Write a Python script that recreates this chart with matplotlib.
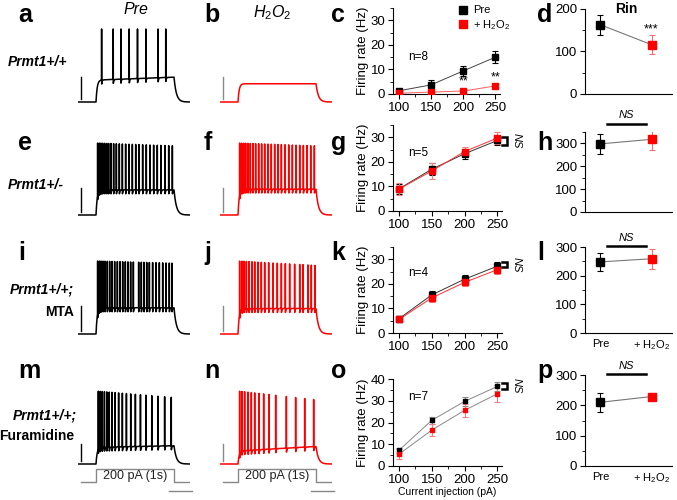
import numpy as np
import matplotlib
matplotlib.use("Agg")
import matplotlib.pyplot as plt
from matplotlib.ticker import MultipleLocator
from matplotlib.lines import Line2D

plt.rcParams['font.family'] = 'Liberation Sans'
plt.rcParams['mathtext.fontset'] = 'custom'
plt.rcParams['mathtext.rm'] = 'Liberation Sans'
plt.rcParams['mathtext.it'] = 'Liberation Sans:italic'
plt.rcParams['mathtext.bf'] = 'Liberation Sans:bold'

# --- values ---
current = [100, 150, 200, 250]

c_pre = [1.3, 3.7, 9.4, 15.0]
c_pre_err = [0.5, 1.8, 2.0, 2.3]
c_h2o2 = [0.3, 0.8, 1.2, 3.3]
c_h2o2_err = [0.3, 0.5, 0.6, 0.9]

g_pre = [9.0, 17.0, 23.3, 28.7]
g_pre_err = [2.0, 2.5, 2.0, 2.0]
g_h2o2 = [8.9, 16.3, 24.2, 29.7]
g_h2o2_err = [2.3, 3.3, 2.0, 2.3]

k_pre = [5.8, 15.5, 21.9, 27.2]
k_pre_err = [1.0, 1.5, 1.8, 1.6]
k_h2o2 = [5.5, 14.3, 20.6, 25.8]
k_h2o2_err = [1.0, 1.5, 1.5, 1.8]

o_pre = [7.2, 21.0, 29.7, 36.6]
o_pre_err = [1.2, 1.5, 2.0, 2.0]
o_h2o2 = [5.4, 16.5, 25.6, 33.2]
o_h2o2_err = [2.3, 2.7, 3.0, 4.0]

rin_groups = ['Pre', '+ H$_2$O$_2$']
d_rin = [163, 116]
d_err = [24, 22]
h_rin = [298, 318]
h_err = [45, 45]
l_rin = [248, 259]
l_err = [32, 35]
p_rin = [210, 229]
p_err = [31, 11]

# spike times (ms after step onset) in the example traces
a_spikes = [72, 221, 319, 426, 532, 639, 796, 894]
b_spikes = []
e_spikes = [21, 43, 64, 85, 111, 137, 162, 192, 226, 261, 299, 338, 380,
            423, 466, 509, 551, 598, 645, 692, 739, 786, 833, 885, 932, 979]
f_spikes = [21, 47, 73, 98, 128, 158, 192, 226, 265, 303, 342, 385, 427,
            470, 513, 556, 603, 650, 697, 744, 791, 838, 885, 932, 979]
i_spikes = [21, 43, 64, 90, 115, 145, 175, 205, 239, 274, 308, 342, 376, 410,
            444, 479, 547, 581, 615, 650, 684, 726, 769, 812, 855, 897, 940, 974]
j_spikes = [21, 51, 77, 107, 141, 179, 214, 256, 299, 342, 393, 449, 504,
            556, 607, 662, 726, 791, 833, 897, 940, 985]
m_spikes = [30, 55, 80, 108, 138, 170, 205, 245, 290, 338, 390, 445, 505,
            570, 640, 715, 795, 880, 965]
n_spikes = [21, 51, 85, 128, 171, 214, 269, 329, 397, 483, 620, 739, 855, 970]

W, H = 677, 500
fig = plt.figure(figsize=(6.77, 5.0), dpi=100)


def box(l, t, r, b):
    return fig.add_axes([l / W, 1 - b / H, (r - l) / W, (b - t) / H])


def ftext(x, y, s, **kw):
    fig.text(x / W, 1 - y / H, s, **kw)


def build_trace(t, spikes, plateau, drift, drop):
    v = np.full_like(t, -70.0)
    on = (t >= 0) & (t < 1000)
    level = plateau + drift * t / 1000
    v[on] = -70 + (level[on] + 70) * (1 - np.exp(-t[on] / 15))
    off = t >= 1000
    v[off] = -70 + (plateau + drift + 70) * np.exp(-(t[off] - 1000) / 30)
    for ts in spikes:
        pk = 30 - drop * ts / 1000
        g = np.exp(-((t - ts) / 0.5) ** 2)
        v = v + (pk - v) * g
        after = t > ts + 0.8
        v[after] -= 6 * np.exp(-(t[after] - ts - 0.8) / 6)
    return v


t = np.arange(-230, 1200, 0.25)
px_ms = 0.078
col_on = {'pre': 96, 'h2o2': 238}
row_px = [(29, 102), (143, 215), (261, 334), (391, 464)]
bar_len = [30, 34, 34, 23]

traces = [
    (a_spikes, 'pre', 0, -40, 4, 0),
    (b_spikes, 'h2o2', 0, -45, 0, 0),
    (e_spikes, 'pre', 1, -35, 0, 4),
    (f_spikes, 'h2o2', 1, -34, 0, 4),
    (i_spikes, 'pre', 2, -34, 0, 3),
    (j_spikes, 'h2o2', 2, -35, 0, 6),
    (m_spikes, 'pre', 3, -47, 2, 9),
    (n_spikes, 'h2o2', 3, -52, 6, 12),
]

for spikes, col, row, plateau, drift, drop in traces:
    on = col_on[col]
    peak, base = row_px[row]
    s = (base - peak) / 100
    ax = box(on - 230 * px_ms, peak - 2 * s, on + 1200 * px_ms, base + 2 * s)
    ax.set_xlim(-230, 1200)
    ax.set_ylim(-72, 32)
    ax.axis('off')
    color = 'black' if col == 'pre' else '#ff0000'
    ax.plot(t, build_trace(t, spikes, plateau, drift, drop), color=color, lw=1.1)
    bar_color = 'black' if col == 'pre' else '#888888'
    ax.plot([-195, -195], [-66, -66 + bar_len[row]], color=bar_color, lw=1,
            clip_on=False)

# current step under the last row
for col in ['pre', 'h2o2']:
    on = col_on[col]
    ax = box(on - 230 * px_ms, 466, on + 1200 * px_ms, 485)
    ax.set_xlim(-230, 1200)
    ax.set_ylim(-46, 246)
    ax.axis('off')
    ax.plot([-190, 0, 0, 1000, 1000, 1210], [0, 0, 200, 200, 0, 0],
            color='#888888', lw=1)
    ax.plot([930, 1230], [-138, -138], color='#888888', lw=1, clip_on=False)
    ax.text(500, 100, '200 pA (1s)', ha='center', va='center', fontsize=9,
            color='#222222')


def style_axes(ax):
    for side in ['top', 'right']:
        ax.spines[side].set_visible(False)
    for side in ['left', 'bottom']:
        ax.spines[side].set_linewidth(0.8)
    ax.tick_params(which='major', direction='out', length=3.5, width=0.8,
                   labelsize=9.5, pad=2)
    ax.tick_params(which='minor', direction='out', length=2, width=0.6)


def fr_panel(ax, pre, pre_err, h2, h2_err, ymax, ms, pre_line, red_line,
             pre_ecol, red_ecol):
    ax.plot(current, pre, color=pre_line, lw=0.7, zorder=2)
    ax.plot(current, h2, color=red_line, lw=0.7, zorder=2)
    ax.errorbar(current, pre, yerr=pre_err, fmt='none', ecolor=pre_ecol,
                elinewidth=0.8, capsize=2, capthick=0.8, zorder=3)
    ax.errorbar(current, h2, yerr=h2_err, fmt='none', ecolor=red_ecol,
                elinewidth=0.8, capsize=2, capthick=0.8, zorder=3)
    ax.plot(current, pre, 's', color='black', ms=ms, zorder=4)
    ax.plot(current, h2, 's', color='#ff0000', ms=ms, zorder=5)
    ax.set_xlim(91, 257)
    ax.set_ylim(0, ymax)
    ax.set_xticks(current)
    ax.xaxis.set_minor_locator(MultipleLocator(25))
    ax.yaxis.set_major_locator(MultipleLocator(10))
    ax.yaxis.set_minor_locator(MultipleLocator(5))
    ax.set_ylabel('Firing rate (Hz)', fontsize=9.5, labelpad=1)
    style_axes(ax)


def ns_bracket(ax, y0, y1):
    ax.plot([257, 265, 265, 257], [y1, y1, y0, y0], color='black', lw=1.8,
            clip_on=False, solid_joinstyle='miter')
    ax.text(280, (y0 + y1) / 2, 'NS', rotation=-90, ha='center', va='center',
            fontsize=8, style='italic')


ax_c = box(393, 8, 500, 94)
fr_panel(ax_c, c_pre, c_pre_err, c_h2o2, c_h2o2_err, 35, 4.5,
         '#444444', '#ff6060', 'black', '#f08080')
ax_c.text(130, 15.2, 'n=8', ha='center', va='center', fontsize=8.5)
ax_c.text(200, 5.2, '**', ha='center', va='center', fontsize=9)
ax_c.text(250, 6.8, '**', ha='center', va='center', fontsize=9)
handles = [Line2D([], [], marker='s', ls='none', color='black', ms=6),
           Line2D([], [], marker='s', ls='none', color='#ff0000', ms=6)]
ax_c.legend(handles, ['Pre', '+ H$_2$O$_2$'], loc='upper left',
            bbox_to_anchor=(0.6, 1.03), frameon=False, fontsize=8,
            borderpad=0, borderaxespad=0, handlelength=1, handletextpad=0.4,
            labelspacing=0.25)

ax_g = box(393, 125, 502, 211)
fr_panel(ax_g, g_pre, g_pre_err, g_h2o2, g_h2o2_err, 35, 4.5,
         '#333333', '#ff3030', 'black', '#f08080')
ax_g.text(130, 23.7, 'n=5', ha='center', va='center', fontsize=8.5)
ns_bracket(ax_g, 26.9, 30.2)

ax_k = box(393, 247, 502, 333)
fr_panel(ax_k, k_pre, k_pre_err, k_h2o2, k_h2o2_err, 35, 4.5,
         '#333333', '#ff3030', 'black', '#f08080')
ax_k.text(130, 24.5, 'n=4', ha='center', va='center', fontsize=8.5)
ns_bracket(ax_k, 26.9, 28.9)

ax_o = box(393, 379, 502, 466)
fr_panel(ax_o, o_pre, o_pre_err, o_h2o2, o_h2o2_err, 40, 3.2,
         '#888888', '#888888', '#888888', '#f08080')
ax_o.text(130, 31.7, 'n=7', ha='center', va='center', fontsize=8.5)
ns_bracket(ax_o, 35.4, 38.2)
ax_o.set_xlabel('Current injection (pA)', fontsize=7.5, labelpad=1)


def rin_panel(ax, vals, errs, ymax, show_labels):
    ax.plot([0, 1], vals, color='#777777', lw=0.8, zorder=2)
    ax.errorbar([0], [vals[0]], yerr=[errs[0]], fmt='none', ecolor='black',
                elinewidth=0.8, capsize=2.5, capthick=0.8, zorder=3)
    ax.errorbar([1], [vals[1]], yerr=[errs[1]], fmt='none', ecolor='#f07070',
                elinewidth=0.8, capsize=2.5, capthick=0.8, zorder=3)
    ax.plot([0], [vals[0]], 's', color='black', ms=5.5, zorder=4)
    ax.plot([1], [vals[1]], 's', color='#ff0000', ms=5.5, zorder=4)
    ax.set_xlim(-0.3, 1.4)
    ax.set_ylim(0, ymax)
    ax.set_xticks([0, 1])
    ax.set_xticklabels(rin_groups if show_labels else ['', ''])
    ax.yaxis.set_major_locator(MultipleLocator(100))
    ax.yaxis.set_minor_locator(MultipleLocator(50))
    style_axes(ax)
    ax.tick_params(axis='x', which='both', length=0, labelsize=8, pad=4)


def ns_bar(ax, y_bar, y_text):
    ax.plot([0.13, 0.89], [y_bar, y_bar], color='black', lw=1.8, clip_on=False)
    ax.text(0.5, y_text, 'NS', ha='center', va='center', fontsize=8,
            style='italic')


ax_d = box(585, 9, 672, 94)
rin_panel(ax_d, d_rin, d_err, 200, False)
ax_d.text(1, 152, '***', ha='center', va='center', fontsize=9)
ax_d.text(0.5, 200, 'Rin', ha='center', va='center', fontsize=10,
          fontweight='bold')

ax_h = box(585, 132, 672, 212)
rin_panel(ax_h, h_rin, h_err, 350, False)
ax_h.set_yticks([0, 100, 200, 300])
ns_bar(ax_h, 385, 424)

ax_l = box(585, 247, 672, 333)
rin_panel(ax_l, l_rin, l_err, 300, True)
ns_bar(ax_l, 303, 331)

ax_p = box(585, 375, 672, 466)
rin_panel(ax_p, p_rin, p_err, 300, True)
ns_bar(ax_p, 303, 330)

# panel letters
letter_x = [18, 204, 331, 537]
letter_y = [22, 150, 260, 378]
letters = ['abcd', 'efgh', 'ijkl', 'mnop']
for r, row in enumerate(letters):
    for c, ch in enumerate(row):
        ftext(letter_x[c], letter_y[r], ch, fontsize=18, fontweight='bold',
              ha='left', va='baseline')

# column titles and genotype labels
ftext(136, 10, 'Pre', fontsize=11.5, style='italic', ha='center', va='center')
ftext(272, 13, r'$\mathit{H_2O_2}$', fontsize=11.5, ha='center', va='center')

ftext(8, 62, 'Prmt1+/+', fontsize=10, fontweight='bold', style='italic',
      ha='left', va='center')
ftext(8, 185, 'Prmt1+/-', fontsize=10, fontweight='bold', style='italic',
      ha='left', va='center')
ftext(74, 290, 'Prmt1+/+;', fontsize=10, fontweight='bold', style='italic',
      ha='right', va='center')
ftext(74, 312, 'MTA', fontsize=10, fontweight='bold', ha='right', va='center')
ftext(77, 415, 'Prmt1+/+;', fontsize=10, fontweight='bold', style='italic',
      ha='right', va='center')
ftext(74, 436, 'Furamidine', fontsize=10, fontweight='bold', ha='right',
      va='center')

fig.savefig('out.png', dpi=100)
